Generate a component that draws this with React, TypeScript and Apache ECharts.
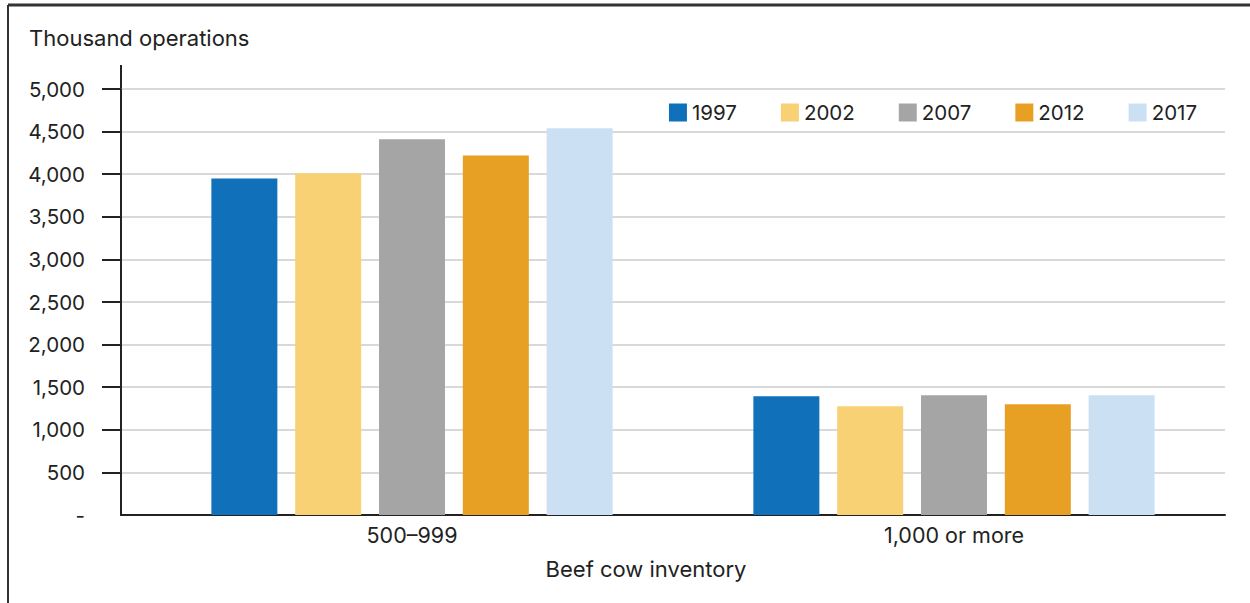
import React, { useEffect, useRef } from "react";
import * as echarts from "echarts";

const categories = ["500–999", "1,000 or more"];
const years = ["1997", "2002", "2007", "2012", "2017"];
const values1997 = [3950, 1395];
const values2002 = [4010, 1275];
const values2007 = [4410, 1405];
const values2012 = [4220, 1300];
const values2017 = [4540, 1405];
const seriesValues = [values1997, values2002, values2007, values2012, values2017];
const colors = ["#1071BA", "#F7D174", "#A5A5A5", "#E8A024", "#CCE0F4"];
const yTicks = [0, 500, 1000, 1500, 2000, 2500, 3000, 3500, 4000, 4500, 5000];

const FONT = "Inter, 'Noto Sans', sans-serif";

export default function App() {
  const ref = useRef<HTMLDivElement>(null);
  useEffect(() => {
    document.body.style.margin = "0";
    const chart = echarts.init(ref.current!, null, { renderer: "svg" });
    chart.setOption({
      animation: false,
      textStyle: { fontFamily: FONT },
      grid: [
        { left: 121, right: 25, top: 89, bottom: 88 },
        { left: 141, right: 25, top: 89, bottom: 88 },
      ],
      legend: {
        data: years,
        right: 53,
        top: 102,
        itemWidth: 18,
        itemHeight: 18,
        itemGap: 44,
        padding: 0,
        icon: "rect",
        textStyle: { fontSize: 20.5, color: "#222", fontFamily: FONT },
      },
      xAxis: [
        {
          type: "category",
          gridIndex: 0,
          data: categories,
          axisLine: { show: true, lineStyle: { color: "#222", width: 2 } },
          axisTick: { show: false },
          axisLabel: { show: false },
          splitLine: { show: false },
        },
        {
          type: "category",
          gridIndex: 1,
          data: categories,
          axisLine: { show: false },
          axisTick: { show: false },
          axisLabel: { fontSize: 21.5, color: "#222", margin: 9, fontFamily: FONT },
        },
      ],
      yAxis: [
        {
          type: "value",
          gridIndex: 0,
          min: 0,
          max: 5000,
          interval: 500,
          axisLine: { show: true, lineStyle: { color: "#222", width: 2 } },
          axisTick: {
            show: true,
            length: 19,
            customValues: yTicks.slice(1),
            lineStyle: { color: "#222", width: 2 },
          },
          axisLabel: {
            fontSize: 20.5,
            color: "#222",
            margin: 36,
            fontFamily: FONT,
            customValues: yTicks,
            formatter: (v: number) => (v === 0 ? "-" : v.toLocaleString("en-US")),
          },
          splitLine: { show: true, lineStyle: { color: "#D9D9D9", width: 2 } },
        },
        {
          type: "value",
          gridIndex: 1,
          min: 0,
          max: 5000,
          interval: 500,
          show: false,
        },
      ],
      series: years.map((y, i) => ({
        name: y,
        type: "bar",
        xAxisIndex: 1,
        yAxisIndex: 1,
        data: seriesValues[i],
        barWidth: 66,
        barGap: "27%",
        itemStyle: { color: colors[i] },
      })),
      graphic: [
        { type: "line", shape: { x1: 8, y1: 5, x2: 1250, y2: 5 }, style: { stroke: "#333", lineWidth: 3 } },
        { type: "line", shape: { x1: 8, y1: 5, x2: 8, y2: 603 }, style: { stroke: "#333", lineWidth: 2 } },
        { type: "line", shape: { x1: 121, y1: 65, x2: 121, y2: 90 }, style: { stroke: "#222", lineWidth: 2 } },
        {
          type: "text",
          left: 29,
          top: 27,
          style: { text: "Thousand operations", fontSize: 22, fill: "#222", fontFamily: FONT },
        },
        {
          type: "text",
          x: 646,
          y: 569,
          style: {
            text: "Beef cow inventory",
            fontSize: 22,
            fill: "#222",
            fontFamily: FONT,
            align: "center",
            verticalAlign: "middle",
          },
        },
      ],
    });
    return () => chart.dispose();
  }, []);
  return <div ref={ref} style={{ width: 1250, height: 603 }} />;
}
